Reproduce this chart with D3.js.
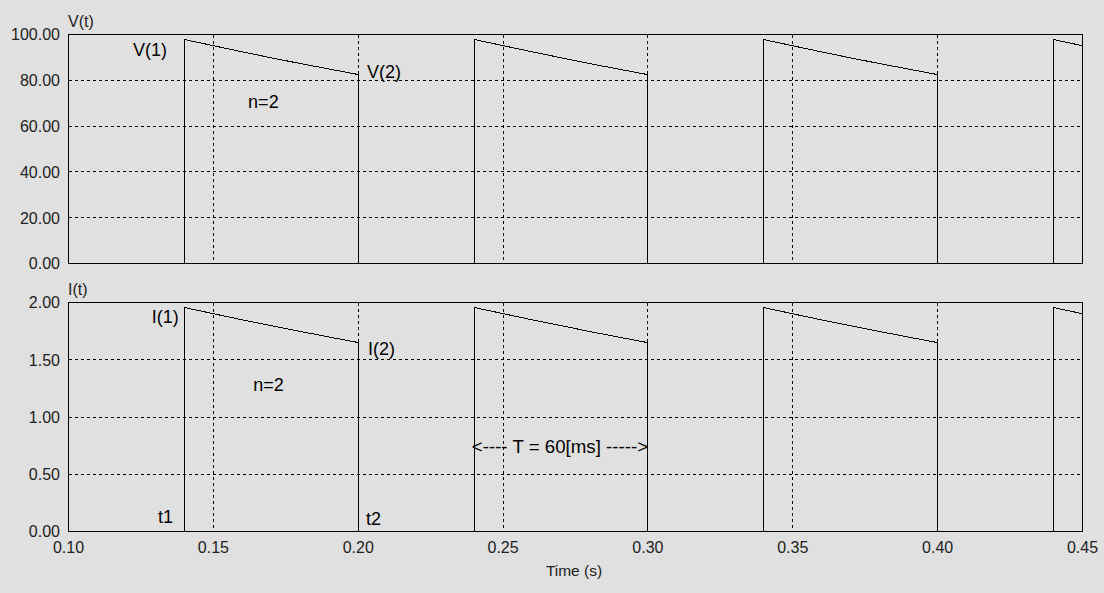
<!DOCTYPE html>
<html><head><meta charset="utf-8">
<script src="https://cdn.jsdelivr.net/npm/d3@7"></script>
<style>
html,body{margin:0;padding:0;background:#e0e0e0;}
svg{display:block;font-family:"Liberation Sans",Arial,sans-serif;}
</style></head>
<body>
<svg id="chart" width="1104" height="593"></svg>
<script>
const xTicks = [0.10, 0.15, 0.20, 0.25, 0.30, 0.35, 0.40, 0.45];
const vTicks = [0, 20, 40, 60, 80, 100];
const iTicks = [0, 0.5, 1.0, 1.5, 2.0];
const pulseStarts = [0.14, 0.24, 0.34, 0.44];
const pulseOffsets = [0, 0.01, 0.02, 0.03, 0.04, 0.05, 0.06];
const vPulse = [97.8, 95.1, 92.4, 89.8, 87.3, 84.9, 82.5];
const iPulse = [1.956, 1.902, 1.848, 1.797, 1.747, 1.698, 1.650];
const annotations = [
  {panel:0, text:"V(1)", x:0.1223, y:90.4},
  {panel:0, text:"V(2)", x:0.2030, y:81.0},
  {panel:0, text:"n=2", x:0.1620, y:67.9},
  {panel:1, text:"I(1)", x:0.1287, y:1.824},
  {panel:1, text:"I(2)", x:0.2034, y:1.541},
  {panel:1, text:"n=2", x:0.1638, y:1.227},
  {panel:1, text:"t1", x:0.1309, y:0.074},
  {panel:1, text:"t2", x:0.2027, y:0.057},
  {panel:1, text:"<---- T = 60[ms] ----->", x:0.2392, y:0.686}
];

const svg = d3.select("#chart");
const x = d3.scaleLinear().domain([0.10, 0.45]).range([68.5, 1082.5]);
const panels = [
  {y: d3.scaleLinear().domain([0, 100]).range([263.5, 34.5]), ticks: vTicks, fmt: d3.format(".2f"), title: "V(t)", pulse: vPulse},
  {y: d3.scaleLinear().domain([0, 2]).range([531.5, 302.5]), ticks: iTicks, fmt: d3.format(".2f"), title: "I(t)", pulse: iPulse}
];

function buildSeries(vals) {
  const pts = [[0.10, 0]];
  pulseStarts.forEach(s => {
    pts.push([s, 0]);
    pulseOffsets.forEach((o, k) => pts.push([s + o, vals[k]]));
    pts.push([s + pulseOffsets[pulseOffsets.length - 1], 0]);
  });
  return pts;
}
const px = v => Math.round(v - 0.5) + 0.5;

panels.forEach((p, pi) => {
  const g = svg.append("g");
  const [y0, y1] = p.y.range();
  const clipId = "clip" + pi;
  svg.append("clipPath").attr("id", clipId).append("rect")
    .attr("x", x.range()[0]).attr("y", y1).attr("width", x.range()[1] - x.range()[0]).attr("height", y0 - y1);

  g.selectAll(".hg").data(p.ticks.slice(1, -1)).join("line")
    .attr("x1", x.range()[0]).attr("x2", x.range()[1])
    .attr("y1", d => px(p.y(d))).attr("y2", d => px(p.y(d)))
    .attr("stroke", "#000").attr("stroke-dasharray", "3,3").attr("shape-rendering", "crispEdges");
  g.selectAll(".vg").data(xTicks.slice(1, -1)).join("line")
    .attr("x1", d => px(x(d))).attr("x2", d => px(x(d)))
    .attr("y1", y1).attr("y2", y0)
    .attr("stroke", "#000").attr("stroke-dasharray", "3,3").attr("shape-rendering", "crispEdges");

  const line = d3.line().x(d => px(x(d[0]))).y(d => p.y(d[1]));
  g.append("path").datum(buildSeries(p.pulse))
    .attr("d", line).attr("fill", "none").attr("stroke", "#000").attr("stroke-width", 1)
    .attr("shape-rendering", "crispEdges")
    .attr("clip-path", "url(#" + clipId + ")");

  g.append("rect").attr("x", x.range()[0]).attr("y", y1)
    .attr("width", x.range()[1] - x.range()[0]).attr("height", y0 - y1)
    .attr("fill", "none").attr("stroke", "#000").attr("shape-rendering", "crispEdges");

  g.selectAll(".yl").data(p.ticks).join("text")
    .attr("x", 60).attr("y", d => p.y(d) + 5.8)
    .attr("text-anchor", "end").attr("font-size", 16).attr("fill", "#222")
    .text(d => p.fmt(d));
  g.append("text").attr("x", 68).attr("y", y1 - 7.5).attr("font-size", 16).attr("fill", "#222").text(p.title);

  g.selectAll(".an").data(annotations.filter(a => a.panel === pi)).join("text")
    .attr("x", d => x(d.x)).attr("y", d => p.y(d.y))
    .attr("font-size", d => d.text.startsWith("<") ? 18.7 : 18).attr("fill", "#000")
    .text(d => d.text);
});

svg.selectAll(".xl").data(xTicks).join("text")
  .attr("x", d => x(d)).attr("y", 553)
  .attr("text-anchor", "middle").attr("font-size", 16).attr("fill", "#222")
  .text(d => d3.format(".2f")(d));
svg.append("text").attr("x", 574).attr("y", 576).attr("text-anchor", "middle")
  .attr("font-size", 15.5).attr("fill", "#222").text("Time (s)");
</script>
</body></html>
